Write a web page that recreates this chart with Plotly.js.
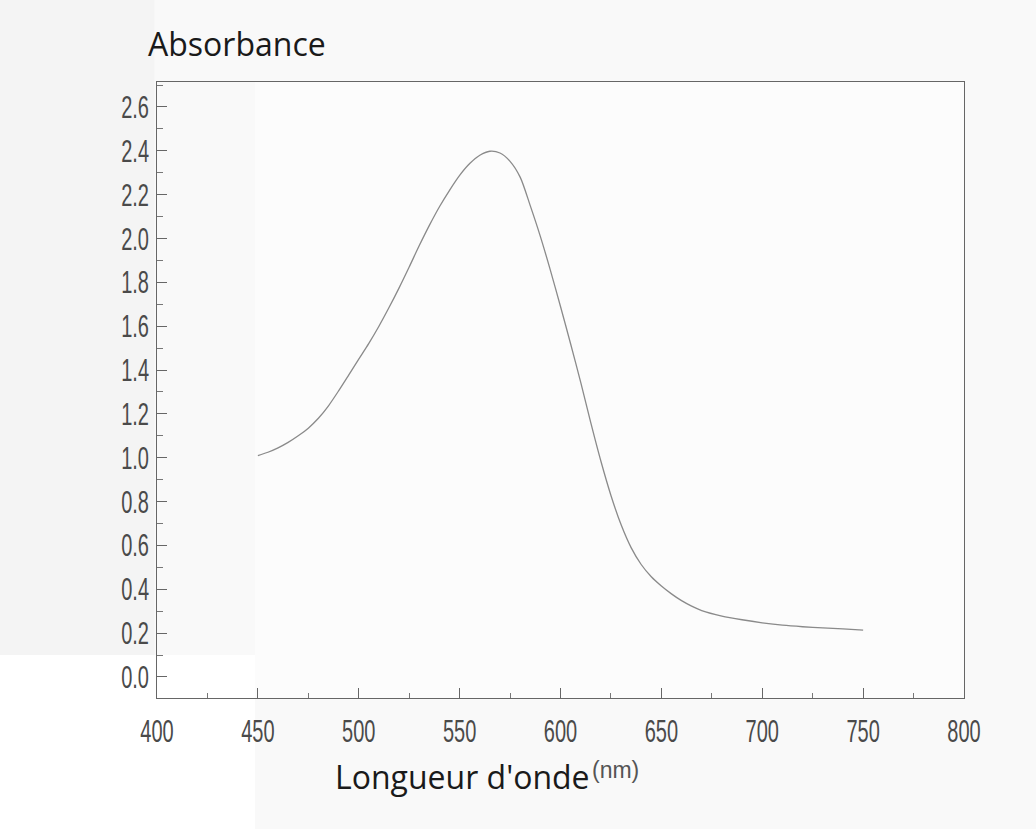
<!DOCTYPE html>
<html>
<head>
<meta charset="utf-8">
<script src="https://cdn.plot.ly/plotly-3.0.1.min.js"></script>
<style>html,body{margin:0;padding:0;background:#f9f9f9;}#chart{width:1036px;height:829px;}</style>
</head>
<body>
<div id="chart"></div>
<script>
// Wavelength (nm)
const wavelength = [450,455,460,465,470,475,480,485,490,495,500,505,510,515,520,525,530,535,540,545,550,555,560,565,570,575,580,585,590,595,600,605,610,615,620,625,630,635,640,645,650,655,660,665,670,680,690,700,710,720,730,740,750];
// Absorbance
const absorbance = [1.01,1.025,1.045,1.07,1.10,1.135,1.18,1.237,1.305,1.377,1.45,1.522,1.60,1.685,1.775,1.87,1.968,2.06,2.145,2.22,2.288,2.342,2.38,2.398,2.39,2.352,2.28,2.15,2.01,1.855,1.69,1.52,1.345,1.16,0.985,0.828,0.695,0.59,0.513,0.457,0.415,0.379,0.348,0.323,0.303,0.278,0.261,0.247,0.236,0.229,0.224,0.219,0.214];

const xTickVals = [400,450,500,550,600,650,700,750,800];
const xTickText = ['400','450','500','550','600','650','700','750','800'];
const yTickVals = [0,0.2,0.4,0.6,0.8,1.0,1.2,1.4,1.6,1.8,2.0,2.2,2.4,2.6];
const yTickText = ['0.0','0.2','0.4','0.6','0.8','1.0','1.2','1.4','1.6','1.8','2.0','2.2','2.4','2.6'];

const tickFont = {family:'Liberation Sans, Arial, sans-serif', size:25, color:'#4a4a4a'};
const titleFont = {family:'Open Sans, Noto Sans, sans-serif', size:32, color:'#1a1a1a'};

const trace = {
  x: wavelength, y: absorbance, type:'scatter', mode:'lines',
  line:{color:'#8a8a8a', width:1.3, shape:'spline', smoothing:0.8},
  hoverinfo:'x+y', showlegend:false
};

const layout = {
  width:1036, height:829,
  margin:{l:157, r:72, t:82, b:131},
  paper_bgcolor:'#f9f9f9',
  plot_bgcolor:'rgba(0,0,0,0)',
  showlegend:false,
  xaxis:{
    range:[400,800], tickmode:'array', tickvals:xTickVals, ticktext:xTickText,
    ticks:'inside', ticklen:10, tickwidth:1, tickcolor:'#666',
    minor:{ticks:'inside', ticklen:5, tickcolor:'#777', tickmode:'linear', tick0:400, dtick:25},
    showline:true, linecolor:'#666', linewidth:1, mirror:true,
    showgrid:false, zeroline:false, tickfont:tickFont, ticklabelstandoff:11
  },
  yaxis:{
    range:[-0.096,2.714], tickmode:'array', tickvals:yTickVals, ticktext:yTickText,
    ticks:'inside', ticklen:10, tickwidth:1, tickcolor:'#666',
    minor:{ticks:'inside', ticklen:6, tickcolor:'#777', tickmode:'linear', tick0:0, dtick:0.1},
    showline:true, linecolor:'#666', linewidth:1, mirror:true,
    showgrid:false, zeroline:false, tickfont:tickFont, ticklabelstandoff:2
  },
  shapes:[
    {type:'rect', xref:'paper', yref:'paper', x0:-0.1945, x1:-0.003, y0:0.0698, y1:1.2, fillcolor:'#f4f4f4', line:{width:0}, layer:'below'},
    {type:'rect', xref:'paper', yref:'paper', x0:-0.1945, x1:0.1214, y0:-0.2127, y1:0.0698, fillcolor:'#ffffff', line:{width:0}, layer:'below'},
    {type:'rect', xref:'paper', yref:'paper', x0:0.1214, x1:1, y0:0, y1:1, fillcolor:'#fcfcfc', line:{width:0}, layer:'below'}
  ],
  annotations:[
    {text:'Absorbance', xref:'paper', yref:'paper', x:-0.0136, y:1.0617, xanchor:'left', yanchor:'middle', showarrow:false, font:titleFont},
    {text:"Longueur d'onde", xref:'paper', yref:'paper', x:0.218, y:-0.128, xanchor:'left', yanchor:'middle', showarrow:false, font:titleFont},
    {text:'(nm)', xref:'paper', yref:'paper', x:0.5366, y:-0.1169, xanchor:'left', yanchor:'middle', showarrow:false, font:{family:'Liberation Sans, Arial, sans-serif', size:23, color:'#555'}}
  ]
};

Plotly.newPlot('chart', [trace], layout, {displayModeBar:false, staticPlot:true}).then(function(gd){
  // narrow, tall tick labels like the scanned original
  try {
    const sx = 0.8, sy = 1.25;
    gd.querySelectorAll('.xtick text').forEach(function(t){
      const b = t.getBBox(); const ax = b.x + b.width/2, ay = b.y + b.height/2;
      const tr = t.getAttribute('transform') || '';
      t.setAttribute('transform', tr + ' translate(' + ax + ',' + ay + ') scale(' + sx + ',' + sy + ') translate(' + (-ax) + ',' + (-ay) + ')');
    });
    gd.querySelectorAll('.ytick text').forEach(function(t){
      const b = t.getBBox(); const ax = b.x + b.width, ay = b.y + b.height/2;
      const tr = t.getAttribute('transform') || '';
      t.setAttribute('transform', tr + ' translate(' + ax + ',' + ay + ') scale(' + sx + ',' + sy + ') translate(' + (-ax) + ',' + (-ay) + ')');
    });
  } catch(e) {}
});
</script>
</body>
</html>
